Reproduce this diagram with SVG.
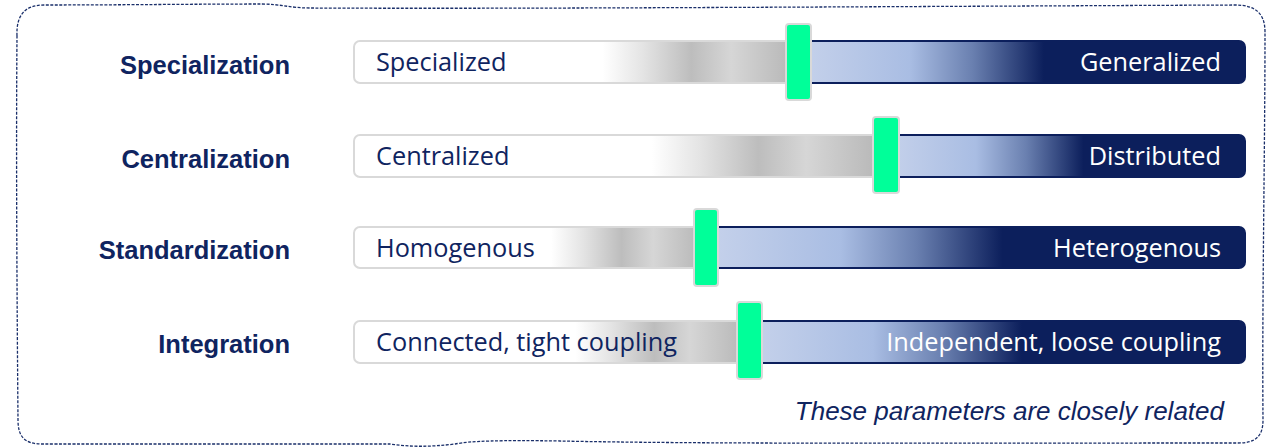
<svg xmlns="http://www.w3.org/2000/svg" width="1268" height="447" viewBox="0 0 1268 447">
  <defs>
    <linearGradient id="grayFade" x1="0" y1="0" x2="1" y2="0">
      <stop offset="0" stop-color="#ffffff"/>
      <stop offset="0.56" stop-color="#ffffff"/>
      <stop offset="0.65" stop-color="#e4e4e4"/>
      <stop offset="0.76" stop-color="#bdbdbd"/>
      <stop offset="0.85" stop-color="#d6d6d6"/>
      <stop offset="1" stop-color="#b4b4b4"/>
    </linearGradient>
    <linearGradient id="blueFade" x1="0" y1="0" x2="1" y2="0">
      <stop offset="0" stop-color="#c6d2eb"/>
      <stop offset="0.25" stop-color="#a9bde3"/>
      <stop offset="0.39" stop-color="#6a80b0"/>
      <stop offset="0.55" stop-color="#0c1f5c"/>
      <stop offset="1" stop-color="#0c1f5c"/>
    </linearGradient>
  </defs>
  <style>
    .label { font-family: "Liberation Sans", Arial, sans-serif; font-weight: bold; font-size: 25.5px; fill: #0f2460; text-anchor: end; }
    .low { font-family: "Open Sans", "Liberation Sans", sans-serif; font-size: 25.3px; fill: #0f2460; }
    .high { font-family: "Open Sans", "Liberation Sans", sans-serif; font-size: 25.3px; fill: #ffffff; text-anchor: end; }
    .track-low { fill: url(#grayFade); stroke: #d9d9d9; stroke-width: 2; }
    .track-high { fill: url(#blueFade); stroke: #0c1f5c; stroke-width: 2; }
    .knob { fill: #00ff99; stroke: #d9d9d9; stroke-width: 2; }
    .frame { fill: none; stroke: #1a2f6a; stroke-width: 1.3; stroke-dasharray: 3 1.5; }
    .note { font-family: "Liberation Sans", Arial, sans-serif; font-style: italic; font-size: 26px; fill: #0f2460; text-anchor: end; }
  </style>

  <!-- dashed outer frame with slightly wavy edges -->
  <path class="frame" d="M17,36 C16,14 26,5 44,5 C120,5 200,4 262,4 C280,4 290,8 310,8 C500,9 800,7 1235,5 C1256,5 1265,14 1265,32 C1265,150 1262,300 1263,420 C1263,436 1256,443 1238,443 C900,443 700,444 560,441 C500,440 470,441 455,444 C430,447 410,447 390,444 C300,444 120,444 42,444 C24,444 18,436 18,420 C17,300 16,150 17,36 Z"/>

  <g id="row-specialization">
    <text class="label" x="290" y="74">Specialization</text>
    <rect class="track-low" x="354" y="41" width="444" height="42" rx="6"/>
    <rect class="track-high" x="798" y="41" width="447" height="42" rx="6"/>
    <text class="low" x="376" y="71">Specialized</text>
    <text class="high" x="1221" y="71">Generalized</text>
    <rect class="knob" x="786" y="24" width="25" height="76" rx="3"/>
  </g>

  <g id="row-centralization">
    <text class="label" x="290" y="168">Centralization</text>
    <rect class="track-low" x="354" y="135" width="532" height="42" rx="6"/>
    <rect class="track-high" x="886" y="135" width="359" height="42" rx="6"/>
    <text class="low" x="376" y="165">Centralized</text>
    <text class="high" x="1221" y="165">Distributed</text>
    <rect class="knob" x="873" y="117" width="26" height="76" rx="3"/>
  </g>

  <g id="row-standardization">
    <text class="label" x="290" y="259">Standardization</text>
    <rect class="track-low" x="354" y="227" width="352" height="41" rx="6"/>
    <rect class="track-high" x="706" y="227" width="539" height="41" rx="6"/>
    <text class="low" x="376" y="257">Homogenous</text>
    <text class="high" x="1221" y="257">Heterogenous</text>
    <rect class="knob" x="694" y="209" width="24" height="77" rx="3"/>
  </g>

  <g id="row-integration">
    <text class="label" x="290" y="353">Integration</text>
    <rect class="track-low" x="354" y="321" width="395" height="42" rx="6"/>
    <rect class="track-high" x="749" y="321" width="496" height="42" rx="6"/>
    <text class="low" x="376" y="351">Connected, tight coupling</text>
    <text class="high" x="1221" y="351">Independent, loose coupling</text>
    <rect class="knob" x="737" y="302" width="25" height="77" rx="3"/>
  </g>

  <g id="connectors"></g>

  <text class="note" x="1224" y="420">These parameters are closely related</text>
</svg>
